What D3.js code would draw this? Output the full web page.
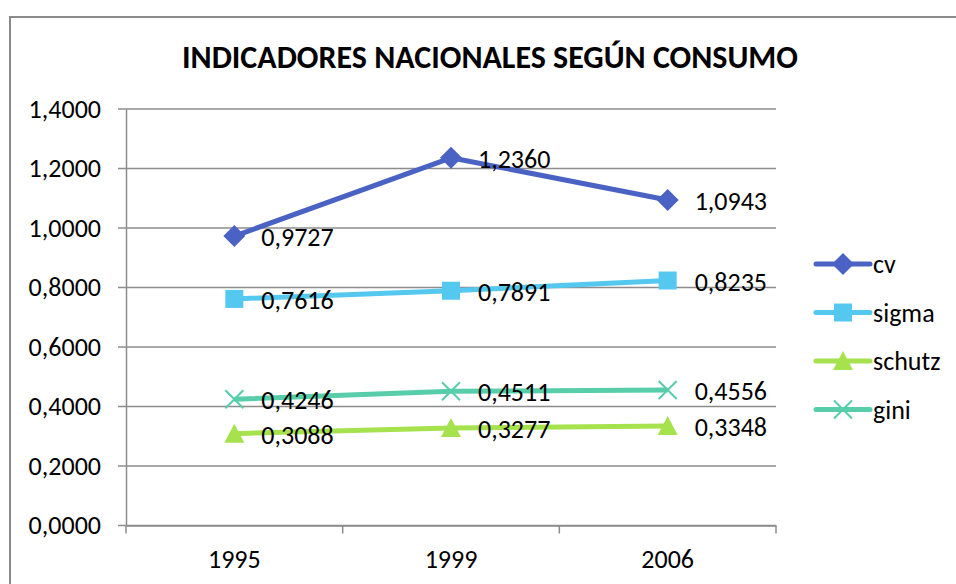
<!DOCTYPE html>
<html>
<head>
<meta charset="utf-8">
<script src="https://cdn.jsdelivr.net/npm/d3@7"></script>
<style>
  body { margin: 0; background: #fff; }
  text { font-family: Carlito, Lato, "Open Sans", sans-serif; fill: #000; }
</style>
</head>
<body>
<div id="svgBody"></div>
<script>
// chart data
var years = ["1995", "1999", "2006"];
var seriesNames = ["cv", "sigma", "schutz", "gini"];
var cvValues = [0.9727, 1.2360, 1.0943];
var sigmaValues = [0.7616, 0.7891, 0.8235];
var schutzValues = [0.3088, 0.3277, 0.3348];
var giniValues = [0.4246, 0.4511, 0.4556];
var yTicks = [0, 0.2, 0.4, 0.6, 0.8, 1.0, 1.2, 1.4];

var colors = { cv: "#4a62c4", sigma: "#55c8ef", schutz: "#a6e24d", gini: "#58cdaa" };
var shapes = { cv: "diamond", sigma: "square", schutz: "triangle", gini: "cross" };

var series = [
    { name: "cv", values: cvValues },
    { name: "sigma", values: sigmaValues },
    { name: "schutz", values: schutzValues },
    { name: "gini", values: giniValues }
];

var fmt = function(v) { return v.toFixed(4).replace(".", ","); };
var fontFam = "Carlito, Lato, 'Open Sans', sans-serif";

var svg = d3.select("#svgBody")
    .append("svg")
    .attr("width", 956)
    .attr("height", 584);

// outer frame
svg.append("path")
    .attr("d", "M10,600 L10,17 L970,17")
    .attr("fill", "none")
    .attr("stroke", "#8a8a8a")
    .attr("stroke-width", 2);

svg.append("text")
    .attr("x", 490)
    .attr("y", 68)
    .attr("text-anchor", "middle")
    .attr("font-weight", "bold")
    .attr("font-size", "32px")
    .text("INDICADORES NACIONALES SEGÚN CONSUMO");

var x = d3.scaleBand().domain(years).range([126, 776]).padding(0);
var y = d3.scaleLinear().domain([0, 1.4]).range([525.5, 109]);

// gridlines
svg.append("g")
    .selectAll("line")
    .data(yTicks)
    .enter()
    .append("line")
    .attr("x1", 118)
    .attr("x2", 776)
    .attr("y1", function(d) { return y(d); })
    .attr("y2", function(d) { return y(d); })
    .attr("stroke", "#8c8c8c")
    .attr("stroke-width", 1.5);

// y axis
var yAxis = svg.append("g")
    .attr("transform", "translate(126,0)")
    .call(d3.axisLeft(y).tickValues(yTicks).tickSize(0).tickPadding(25).tickFormat(fmt));
yAxis.select(".domain").attr("stroke", "#8c8c8c").attr("stroke-width", 1.5);
yAxis.selectAll("text").attr("font-size", "26px").attr("fill", "#000")
    .attr("font-family", fontFam);

// x axis
var xAxis = svg.append("g")
    .attr("transform", "translate(0," + y(0) + ")")
    .call(d3.axisBottom(x).tickSize(0).tickPadding(24));
xAxis.select(".domain").attr("stroke", "#8c8c8c").attr("stroke-width", 1.5);
xAxis.selectAll("text").attr("font-size", "26px").attr("fill", "#000")
    .attr("font-family", fontFam);
// tick marks between categories
svg.append("g")
    .selectAll("line")
    .data(years.concat(["end"]))
    .enter()
    .append("line")
    .attr("x1", function(d, i) { return i < years.length ? x(d) : x.range()[1]; })
    .attr("x2", function(d, i) { return i < years.length ? x(d) : x.range()[1]; })
    .attr("y1", y(0))
    .attr("y2", y(0) + 8)
    .attr("stroke", "#8c8c8c")
    .attr("stroke-width", 1.5);

function markerPath(shape) {
    if (shape == "diamond") return "M0,-11 L11,0 L0,11 L-11,0 Z";
    if (shape == "square") return "M-9,-9 L9,-9 L9,9 L-9,9 Z";
    if (shape == "triangle") return "M0,-10 L10,9 L-10,9 Z";
    return "M-9,-9 L9,9 M-9,9 L9,-9";
}

function drawMarker(g, shape, color) {
    g.append("path")
        .attr("d", markerPath(shape))
        .attr("fill", shape == "cross" ? "none" : color)
        .attr("stroke", color)
        .attr("stroke-width", shape == "cross" ? 2 : 0);
}

var cx = function(i) { return x(years[i]) + x.bandwidth() / 2; };

var line = d3.line()
    .x(function(d, i) { return cx(i); })
    .y(function(d) { return y(d); });

// draw order: cv, sigma, schutz, gini
series.forEach(function(s) {
    var g = svg.append("g");
    g.append("path")
        .datum(s.values)
        .attr("d", line)
        .attr("fill", "none")
        .attr("stroke", colors[s.name])
        .attr("stroke-width", 5)
        .attr("stroke-linejoin", "round");
    s.values.forEach(function(v, i) {
        var m = g.append("g").attr("transform", "translate(" + cx(i) + "," + y(v) + ")");
        drawMarker(m, shapes[s.name], colors[s.name]);
    });
});

// data labels on top
series.forEach(function(s) {
    svg.append("g")
        .selectAll("text")
        .data(s.values)
        .enter()
        .append("text")
        .attr("x", function(d, i) { return cx(i) + 27; })
        .attr("y", function(d) { return y(d) + 10; })
        .attr("font-size", "26px")
        .text(function(d) { return fmt(d); });
});

// legend
var legend = svg.append("g");
seriesNames.forEach(function(name, i) {
    var ly = 264 + i * 48.5;
    var g = legend.append("g");
    g.append("line")
        .attr("x1", 816).attr("x2", 870)
        .attr("y1", ly).attr("y2", ly)
        .attr("stroke", colors[name])
        .attr("stroke-width", 5)
        .attr("stroke-linecap", "round");
    var m = g.append("g").attr("transform", "translate(843," + ly + ")");
    drawMarker(m, shapes[name], colors[name]);
    g.append("text")
        .attr("x", 873)
        .attr("y", ly + 9)
        .attr("font-size", "26px")
        .text(name);
});
</script>
</body>
</html>
